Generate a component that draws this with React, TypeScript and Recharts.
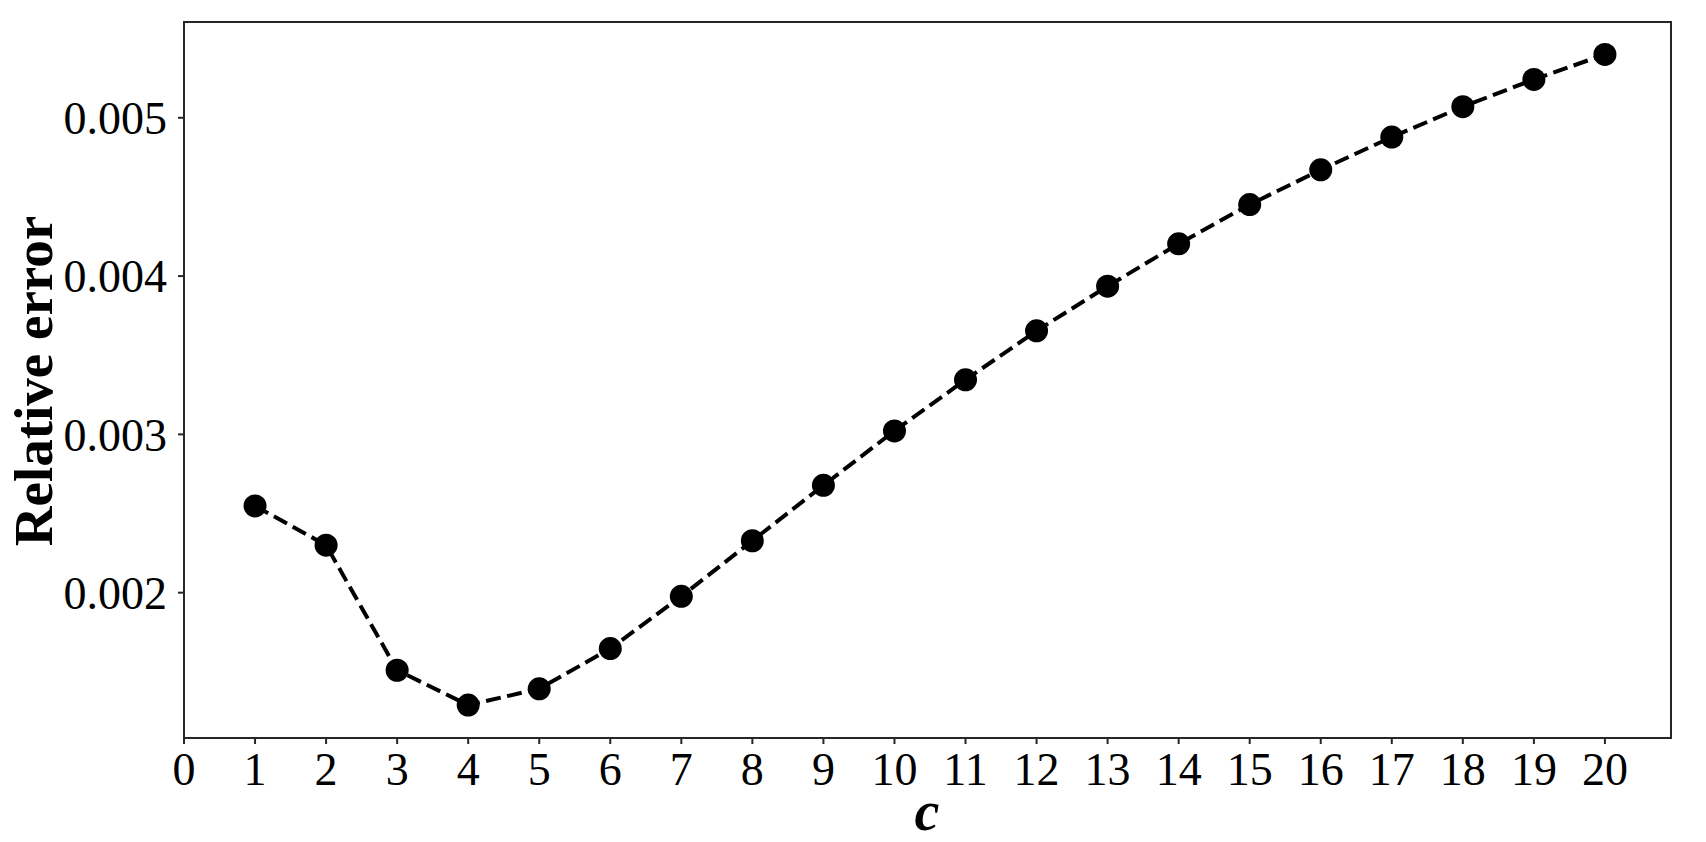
import { LineChart, Line, XAxis, YAxis, ReferenceArea } from 'recharts';

const cValues = [1, 2, 3, 4, 5, 6, 7, 8, 9, 10, 11, 12, 13, 14, 15, 16, 17, 18, 19, 20];
const relErrors = [
  0.002548, 0.0023, 0.00151, 0.00129, 0.001393, 0.001647, 0.001977, 0.002328, 0.002678, 0.003022,
  0.003345, 0.003654, 0.003936, 0.004204, 0.004452, 0.004671, 0.004878, 0.00507, 0.005242, 0.0054,
];
const xTicks = [0, 1, 2, 3, 4, 5, 6, 7, 8, 9, 10, 11, 12, 13, 14, 15, 16, 17, 18, 19, 20];
const yTicks = [0.002, 0.003, 0.004, 0.005];

const X_MIN = 0;
const X_MAX = 20.93;
const Y_MIN = 0.001082;
const Y_MAX = 0.005605;

const data = cValues.map((c, i) => ({ c, err: relErrors[i] }));

const FONT = '"Liberation Serif", "DejaVu Serif", serif';
const SPINE = '#262626';

export default function App() {
  return (
    <div style={{ position: 'absolute', left: 0, top: 0, background: '#fff' }}>
      <LineChart width={1706} height={842} data={data} margin={{ top: 22, right: 35, left: 0, bottom: 0 }}>
        <XAxis
          dataKey="c"
          type="number"
          domain={[X_MIN, X_MAX]}
          ticks={xTicks}
          allowDataOverflow
          height={104}
          tickSize={6}
          tickMargin={8}
          stroke={SPINE}
          strokeWidth={2}
          tick={{ fill: '#000', fontSize: 46, fontFamily: FONT }}
          label={{
            content: () => (
              <text x={927} y={830} textAnchor="middle" fontSize={56} fontWeight="bold" fontStyle="italic" fontFamily={FONT} fill="#000">
                c
              </text>
            ),
          }}
        />
        <YAxis
          type="number"
          domain={[Y_MIN, Y_MAX]}
          ticks={yTicks}
          allowDataOverflow
          width={184}
          tickSize={6}
          tickMargin={11}
          stroke={SPINE}
          strokeWidth={2}
          tickFormatter={(v: number) => v.toFixed(3)}
          tick={{ fill: '#000', fontSize: 46, fontFamily: FONT }}
          label={{
            content: () => (
              <text
                x={33}
                y={381}
                transform="rotate(-90 33 381)"
                textAnchor="middle"
                dominantBaseline="central"
                fontSize={55}
                fontWeight="bold"
                fontFamily={FONT}
                fill="#000"
              >
                Relative error
              </text>
            ),
          }}
        />
        <ReferenceArea x1={X_MIN} x2={X_MAX} y1={Y_MIN} y2={Y_MAX} fill="none" stroke={SPINE} strokeWidth={2} ifOverflow="visible" />
        <Line
          type="linear"
          dataKey="err"
          stroke="#000"
          strokeWidth={4}
          strokeDasharray="15 6.5"
          isAnimationActive={false}
          dot={(p: any) => <circle key={`d-${p.index}`} cx={p.cx} cy={p.cy} r={11.5} fill="#000" />}
          activeDot={false}
        />
      </LineChart>
    </div>
  );
}
